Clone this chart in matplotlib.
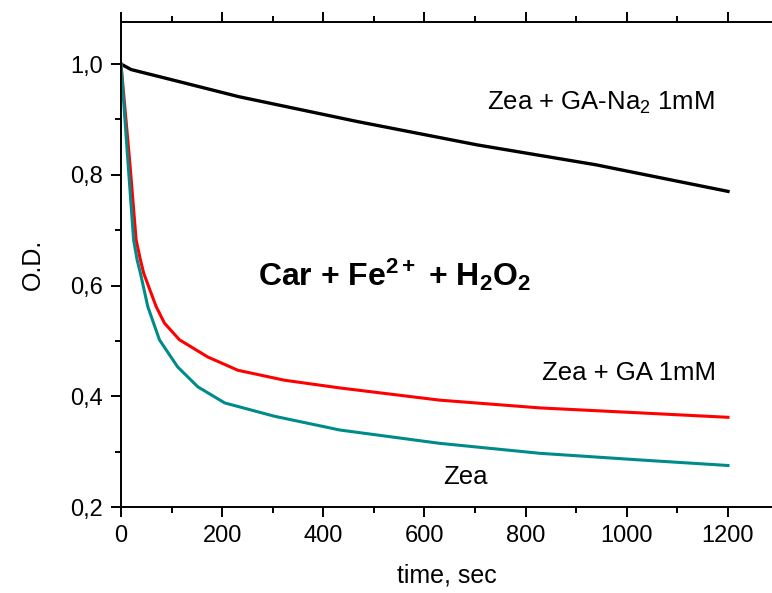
import numpy as np
import matplotlib
matplotlib.use("Agg")
import matplotlib.pyplot as plt
from matplotlib.ticker import MultipleLocator, FixedLocator, FixedFormatter

plt.rcParams['font.family'] = ['Liberation Sans', 'DejaVu Sans']
plt.rcParams['mathtext.fontset'] = 'custom'
plt.rcParams['mathtext.rm'] = 'Liberation Sans'
plt.rcParams['mathtext.it'] = 'Liberation Sans'
plt.rcParams['mathtext.bf'] = 'Liberation Sans:bold'

# data (time in sec, optical density)
t_na2 = [0, 20, 116, 233, 468, 704, 939, 1200]
od_na2 = [1.0, 0.99, 0.968, 0.941, 0.896, 0.854, 0.818, 0.770]

t_ga = [0, 17, 30, 38.5, 45, 69.5, 86, 115.6, 171.5, 231, 323, 433, 630, 828, 1026, 1200]
od_ga = [1.0, 0.827, 0.682, 0.646, 0.622, 0.562, 0.532, 0.502, 0.471, 0.447, 0.429,
         0.415, 0.393, 0.379, 0.370, 0.362]

t_zea = [0, 13.5, 25, 32, 38.5, 53, 76, 112, 152, 205, 303, 433, 630, 828, 1026, 1200]
od_zea = [1.0, 0.827, 0.682, 0.646, 0.622, 0.562, 0.502, 0.453, 0.417, 0.388, 0.364,
          0.339, 0.315, 0.297, 0.285, 0.275]

yticks = [0.2, 0.4, 0.6, 0.8, 1.0]
ytick_labels = ['0,2', '0,4', '0,6', '0,8', '1,0']
xticks = [0, 200, 400, 600, 800, 1000, 1200]

fig = plt.figure(figsize=(7.72, 5.93), dpi=100)
ax = fig.add_axes([0.1567, 0.145, 0.8433, 0.818])

ax.plot(t_na2, od_na2, color='black', lw=2.4)
ax.plot(t_ga, od_ga, color='#ff0000', lw=2.2)
ax.plot(t_zea, od_zea, color='#008b8b', lw=2.2)

ax.set_xlim(0, 1287)
ax.set_ylim(0.2, 1.076)

ax.xaxis.set_major_locator(FixedLocator(xticks))
ax.xaxis.set_minor_locator(MultipleLocator(100))
ax.yaxis.set_major_locator(FixedLocator(yticks))
ax.yaxis.set_major_formatter(FixedFormatter(ytick_labels))
ax.yaxis.set_minor_locator(MultipleLocator(0.1))

ax.spines['right'].set_visible(False)
for s in ['left', 'bottom', 'top']:
    ax.spines[s].set_linewidth(1.4)
ax.tick_params(which='both', direction='out', top=True, right=False, labeltop=False,
               labelsize=17, width=1.4)
ax.tick_params(which='major', length=7, pad=6)
ax.tick_params(which='minor', length=4)

ax.set_xlabel('time, sec', fontsize=18, labelpad=12)
ax.set_ylabel('O.D.', fontsize=18, labelpad=18)

ax.text(723, 0.93, r'Zea + GA-Na$_2$ 1mM', fontsize=18.5, va='center')
ax.text(832, 0.442, 'Zea + GA 1mM', fontsize=18.5, va='center')
ax.text(636, 0.254, 'Zea', fontsize=18.5, va='center')
ax.text(271, 0.619, r'Car + Fe$^{\mathbf{2+}}$ + H$_\mathbf{2}$O$_\mathbf{2}$',
        fontsize=23, fontweight='bold', va='center')

fig.savefig('out.png', dpi=100)
